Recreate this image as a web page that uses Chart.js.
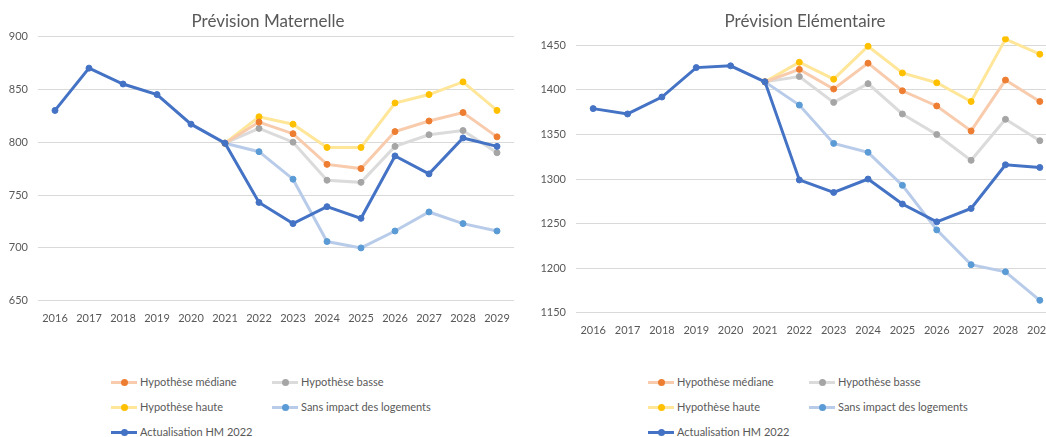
<!DOCTYPE html>
<html>
<head>
<meta charset="utf-8">
<script src="https://cdn.jsdelivr.net/npm/chart.js@4"></script>
<style>
  html, body { margin: 0; padding: 0; background: #fff; overflow: hidden; width: 1046px; height: 437px; }
  canvas { position: absolute; top: 0; }
  #chartMat { left: 0; }
  #chartElem { left: 520px; }
  .item { position: absolute; height: 14px; line-height: 14px; white-space: nowrap;
          font: 11px Lato, sans-serif; color: #595959; }
  .sample { position: absolute; left: 0; top: 5.5px; width: 26px; height: 3px; }
  .dot { position: absolute; left: 9.5px; top: 3.5px; width: 7px; height: 7px; border-radius: 50%; }
  .lbl { position: absolute; left: 29px; top: 0; }
</style>
</head>
<body>
<canvas id="chartMat" width="536" height="336"></canvas>
<canvas id="chartElem" width="570" height="348"></canvas>
<div id="legends"></div>
<script>
// --- data ---
const years = ['2016', '2017', '2018', '2019', '2020', '2021', '2022', '2023', '2024', '2025', '2026', '2027', '2028', '2029'];
const seriesNames = ['Hypothèse médiane', 'Hypothèse basse', 'Hypothèse haute', 'Sans impact des logements', 'Actualisation HM 2022'];

// Maternelle
const matMediane = [null, null, null, null, null, 799, 819, 808, 779, 775, 810, 820, 828, 805];
const matBasse   = [null, null, null, null, null, 799, 813, 800, 764, 762, 796, 807, 811, 790];
const matHaute   = [null, null, null, null, null, 799, 824, 817, 795, 795, 837, 845, 857, 830];
const matSans    = [null, null, null, null, null, 799, 791, 765, 706, 700, 716, 734, 723, 716];
const matActuel  = [830, 870, 855, 845, 817, 799, 743, 723, 739, 728, 787, 770, 804, 796];

// Elémentaire
const elemMediane = [null, null, null, null, null, 1409, 1423, 1401, 1430, 1399, 1382, 1354, 1411, 1387];
const elemBasse   = [null, null, null, null, null, 1409, 1415, 1386, 1407, 1373, 1350, 1321, 1367, 1343];
const elemHaute   = [null, null, null, null, null, 1409, 1431, 1412, 1449, 1419, 1408, 1387, 1457, 1440];
const elemSans    = [null, null, null, null, null, 1409, 1383, 1340, 1330, 1293, 1243, 1204, 1196, 1164];
const elemActuel  = [1379, 1373, 1392, 1425, 1427, 1409, 1299, 1285, 1300, 1272, 1252, 1267, 1316, 1313];

// line colour / point colour per series
const lineColors  = ['#F8CBAD', '#DBDBDB', '#FFE699', '#B8CCEA', '#4472C4'];
const pointColors = ['#ED7D31', '#A5A5A5', '#FFC000', '#5B9BD5', '#4472C4'];

function buildDatasets(values) {
  return values.map((data, i) => ({
    label: seriesNames[i],
    data: data,
    borderColor: lineColors[i],
    backgroundColor: pointColors[i],
    pointBackgroundColor: pointColors[i],
    pointBorderColor: pointColors[i],
    pointBorderWidth: 1,
    pointRadius: 3,
    borderWidth: 3,
    tension: 0,
    order: i === 4 ? 0 : i + 1,
  }));
}

// Excel centres the title over the whole chart, not over the padded box
const centreTitle = {
  id: 'centreTitle',
  afterLayout(chart) {
    if (chart.titleBlock) {
      chart.titleBlock.left = 0;
      chart.titleBlock.right = chart.width;
    }
  },
};

function makeChart(id, title, values, yMin, yMax, axisWidth, padRight) {
  return new Chart(document.getElementById(id), {
    type: 'line',
    data: { labels: years, datasets: buildDatasets(values) },
    plugins: [centreTitle],
    options: {
      responsive: false,
      animation: false,
      devicePixelRatio: 1,
      layout: { padding: { left: 0, right: padRight, top: 0, bottom: 0 } },
      plugins: {
        legend: { display: false },
        tooltip: { enabled: false },
        title: {
          display: true,
          text: title,
          color: '#595959',
          font: { family: 'Lato', size: 17, weight: 'normal' },
          padding: { top: 11, bottom: 5 },
        },
      },
      scales: {
        x: {
          offset: true,
          grid: { display: false, drawTicks: false },
          border: { display: false },
          ticks: { color: '#595959', font: { family: 'Lato', size: 11 }, padding: 11,
                   autoSkip: false, maxRotation: 0 },
        },
        y: {
          min: yMin,
          max: yMax,
          grid: { color: '#D9D9D9', drawTicks: false },
          border: { display: false },
          ticks: { stepSize: 50, includeBounds: false, color: '#595959',
                   font: { family: 'Lato', size: 11 }, padding: 10,
                   callback: (v) => String(v) },
          afterBuildTicks: (axis) => { axis.ticks = axis.ticks.filter((t) => t.value % 50 === 0); },
          afterFit: (axis) => { axis.width = axisWidth; },
        },
      },
    },
  });
}

makeChart('chartMat', 'Prévision Maternelle',
  [matMediane, matBasse, matHaute, matSans, matActuel], 650, 900, 38, 22);
makeChart('chartElem', 'Prévision Elémentaire',
  [elemMediane, elemBasse, elemHaute, elemSans, elemActuel], 1150, 1460, 56, 33);

// HTML legends (two columns, as in the reference)
function addLegend(x1, x2) {
  const slots = [[x1, 375], [x2, 375], [x1, 400], [x2, 400], [x1, 425]];
  const host = document.getElementById('legends');
  seriesNames.forEach((name, i) => {
    const item = document.createElement('div');
    item.className = 'item';
    item.style.left = slots[i][0] + 'px';
    item.style.top = slots[i][1] + 'px';
    item.innerHTML =
      '<span class="sample" style="background:' + lineColors[i] + '"></span>' +
      '<span class="dot" style="background:' + pointColors[i] + '"></span>' +
      '<span class="lbl">' + name + '</span>';
    host.appendChild(item);
  });
}
addLegend(111, 272);
addLegend(648, 809);
</script>
</body>
</html>
